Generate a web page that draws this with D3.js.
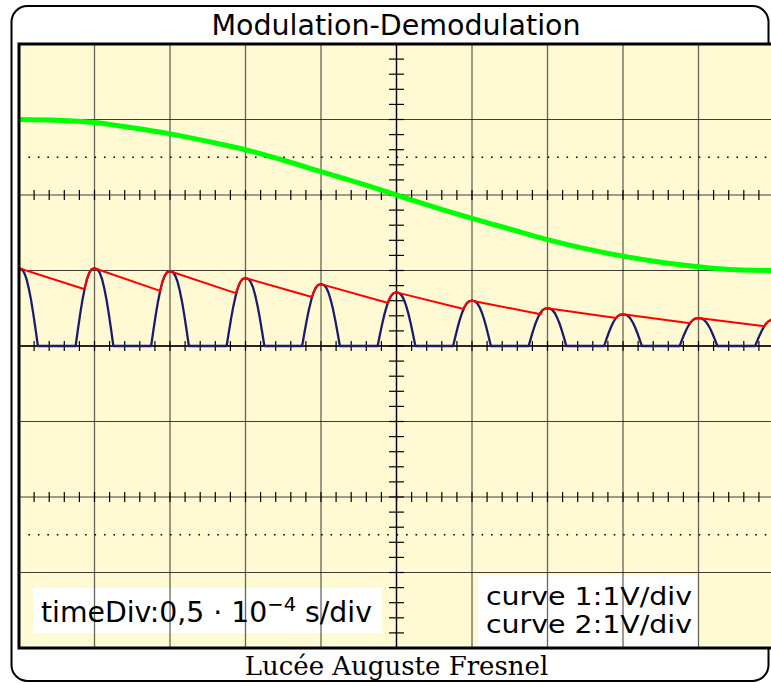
<!DOCTYPE html>
<html><head><meta charset="utf-8">
<script src="https://cdn.jsdelivr.net/npm/d3@7"></script>
<style>html,body{margin:0;padding:0;background:#fff;overflow:hidden}</style>
</head><body>
<svg id="chart" width="771" height="683"></svg>
<script>
// ---- data (in screen divisions) ----
const title = "Modulation-Demodulation";
const footer = "Lucée Auguste Fresnel";
const timeLabel = ["timeDiv:0,5 · 10", "−4", " s/div"];
const curveLabels = ["curve 1:1V/div", "curve 2:1V/div"];

// green: modulating signal, sampled every 0.5 div
const greenX = [0,0.5,1,1.5,2,2.5,3,3.5,4,4.5,5,5.5,6,6.5,7,7.5,8,8.5,9,9.5,10];
const greenY = [3.0,2.99,2.96,2.89,2.81,2.71,2.6,2.46,2.31,2.16,2.0,1.84,1.69,1.55,1.41,1.29,1.19,1.11,1.05,1.01,1.0];

// blue: rectified modulated carrier – arch peaks
const peakX = [0,1,2,3,4,5,6,7,8,9,10];
const peakY = [1.03,1.03,0.99,0.90,0.82,0.71,0.60,0.50,0.42,0.37,0.35];
// arch profile (offset from peak, relative height)
const archOffset = [-0.25,-0.22,-0.19,-0.16,-0.13,-0.10,-0.07,-0.04,0,0.04,0.07,0.10,0.13,0.16,0.19,0.22,0.25];
const archShape  = [0,0.21,0.41,0.59,0.74,0.86,0.94,0.985,1,0.985,0.94,0.86,0.74,0.59,0.41,0.21,0];

// red: envelope detector – points where decay meets the next rising arch
const catchX = [0.86,1.87,2.87,3.88,4.89,5.89,6.91,7.91,8.89,9.85];
const catchY = [0.755,0.73,0.70,0.65,0.57,0.49,0.42,0.37,0.30,0.265];

// ---- layout ----
const svg = d3.select("#chart");
const x = d3.scaleLinear().domain([0,10]).range([19,774]);
const y = d3.scaleLinear().domain([-4,4]).range([648,44]);

// frame
svg.append("rect").attr("x",11.5).attr("y",6).attr("width",757).attr("height",675)
  .attr("rx",16).attr("fill","#fff").attr("stroke","#000").attr("stroke-width",2);

svg.append("text").attr("x",396).attr("y",35).attr("text-anchor","middle")
  .attr("font-family","DejaVu Sans").attr("font-size",28.5).attr("fill","#000").text(title);
svg.append("text").attr("x",396.5).attr("y",675).attr("text-anchor","middle")
  .attr("font-family","DejaVu Serif").attr("font-size",26).attr("fill","#000").text(footer);

// screen
svg.append("rect").attr("x",x(0)).attr("y",y(4)).attr("width",x(10)-x(0)).attr("height",y(-4)-y(4))
  .attr("fill","#fffad4");

// label boxes
svg.append("rect").attr("x",33).attr("y",588).attr("width",349).attr("height",45).attr("fill","#fff");
svg.append("rect").attr("x",478).attr("y",575).attr("width",220).attr("height",73).attr("fill","#fff");

const tl = svg.append("text").attr("x",41).attr("y",622).attr("font-family","DejaVu Sans")
  .attr("font-size",28.3).attr("fill","#000");
tl.append("tspan").text(timeLabel[0]);
tl.append("tspan").attr("font-size",19.5).attr("dy",-11).text(timeLabel[1]);
tl.append("tspan").attr("dy",11).text(timeLabel[2]);

curveLabels.forEach((t,i)=>{
  svg.append("text").attr("x",486).attr("y",605+i*28).attr("font-family","DejaVu Sans")
    .attr("font-size",24).attr("textLength",206).attr("lengthAdjust","spacingAndGlyphs")
    .attr("fill","#000").text(t);
});

// grid
const g = svg.append("g");
g.selectAll(".vg").data(d3.range(1,10)).join("line")
  .attr("x1",d=>x(d)).attr("x2",d=>x(d)).attr("y1",y(4)).attr("y2",y(-4))
  .attr("stroke","#000").attr("stroke-opacity",0.6).attr("stroke-width",1.3);
g.selectAll(".hg").data(d3.range(-3,4)).join("line")
  .attr("x1",x(0)).attr("x2",x(10)).attr("y1",d=>y(d)).attr("y2",d=>y(d))
  .attr("stroke","#000").attr("stroke-opacity",0.75).attr("stroke-width",1.2);
// dotted lines
g.selectAll(".dl").data([2.5,-2.5]).join("line")
  .attr("x1",x(0.125)).attr("x2",x(10)).attr("y1",d=>y(d)).attr("y2",d=>y(d))
  .attr("stroke","#000").attr("stroke-width",1.6).attr("stroke-dasharray","1.6 7.84");
// center axes
g.append("line").attr("x1",x(5)).attr("x2",x(5)).attr("y1",y(4)).attr("y2",y(-4))
  .attr("stroke","#000").attr("stroke-width",1.3);
g.append("line").attr("x1",x(0)).attr("x2",x(10)).attr("y1",y(0)).attr("y2",y(0))
  .attr("stroke","#000").attr("stroke-width",1.3);
// ticks on vertical axis
const vt = d3.range(-4,4.001,0.2);
g.selectAll(".vt").data(vt).join("line")
  .attr("x1",x(5)-7.5).attr("x2",x(5)+7.5).attr("y1",d=>y(d)).attr("y2",d=>y(d))
  .attr("stroke","#000").attr("stroke-width",1.2);
// ticks on horizontal axes
const ht = d3.range(0,10.001,0.2);
[0,2,-2].forEach(lev=>{
  g.selectAll(null).data(ht).join("line")
    .attr("x1",d=>x(d)).attr("x2",d=>x(d)).attr("y1",y(lev)-5).attr("y2",y(lev)+5)
    .attr("stroke","#000").attr("stroke-width",1.2);
});

// curves
const clip = svg.append("clipPath").attr("id","scr").append("rect")
  .attr("x",x(0)).attr("y",y(4)).attr("width",x(10)-x(0)).attr("height",y(-4)-y(4));
const curves = svg.append("g").attr("clip-path","url(#scr)");

const line = d3.line().x(d=>x(d[0])).y(d=>y(d[1]));

curves.append("path").datum(greenX.map((d,i)=>[d,greenY[i]]))
  .attr("d",line.curve(d3.curveMonotoneX)).attr("fill","none")
  .attr("stroke","#00ff00").attr("stroke-width",5);

// blue points
const arch = k => archOffset.map((o,j)=>[peakX[k]+o, peakY[k]*archShape[j]]);
let blue = [];
peakX.forEach((p,k)=>{ arch(k).forEach(pt=>{ if(pt[0]>=0) blue.push(pt); }); });
curves.append("path").datum(blue)
  .attr("d",d3.line().x(d=>x(d[0])).y(d=>y(d[1]))).attr("fill","none")
  .attr("stroke","#1c1c6c").attr("stroke-width",2.3).attr("stroke-linejoin","round");

// red points
let red = [[peakX[0],peakY[0]]];
catchX.forEach((cx,k)=>{
  red.push([cx,catchY[k]]);
  arch(k+1).forEach(pt=>{ if(pt[0]>cx && pt[0]<=peakX[k+1]) red.push(pt); });
});
curves.append("path").datum(red)
  .attr("d",d3.line().x(d=>x(d[0])).y(d=>y(d[1]))).attr("fill","none")
  .attr("stroke","#ff0000").attr("stroke-width",2).attr("stroke-linejoin","round");

// screen border
svg.append("rect").attr("x",x(0)).attr("y",y(4)).attr("width",x(10)-x(0)).attr("height",y(-4)-y(4))
  .attr("fill","none").attr("stroke","#000").attr("stroke-width",3);
</script>
</body></html>
